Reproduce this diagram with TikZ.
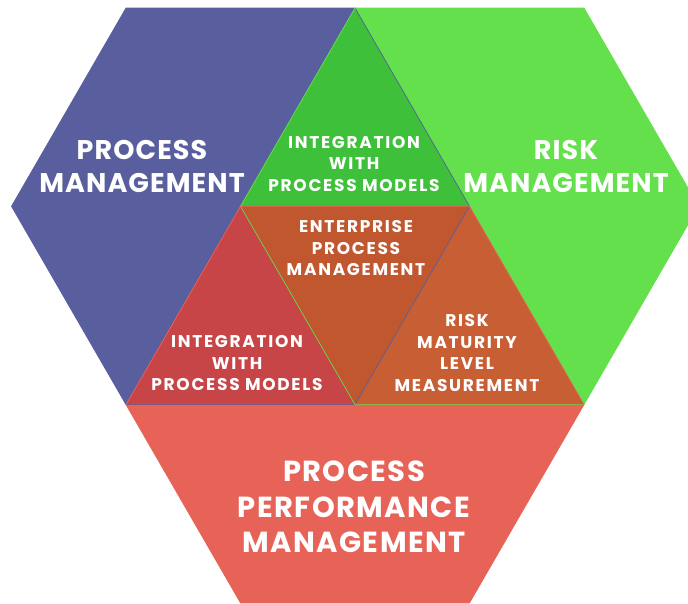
\documentclass[tikz,border=0pt]{standalone}
\usepackage{fontspec}
\setmainfont{Poppins}
\definecolor{pmblue}{HTML}{585E9E}
\definecolor{rmgreen}{HTML}{63E04B}
\definecolor{ppmred}{HTML}{E86357}
\definecolor{topgreen}{HTML}{3EC03A}
\definecolor{midorange}{HTML}{C0572E}
\definecolor{leftred}{HTML}{C74546}
\definecolor{rightorange}{HTML}{C85E33}
\begin{document}
\begin{tikzpicture}[x=1pt,y=-1pt,
    smalltext/.style={text=white,align=center,font=\bfseries\fontsize{17}{21.5}\selectfont\addfontfeatures{LetterSpace=10}},
    bigtext/.style={text=white,align=center,font=\bfseries\fontsize{27}{33}\selectfont\addfontfeatures{LetterSpace=4}},
    rim/.style={line width=0.7pt}]
  \useasboundingbox (0,0) rectangle (688,603);
  \clip (0,0) rectangle (688,603);
  % lattice points
  \coordinate (t1) at (126,8);    \coordinate (t2) at (355,8);    \coordinate (t3) at (584,8);
  \coordinate (m0) at (11.5,206.3); \coordinate (m1) at (240.5,206.3);
  \coordinate (m2) at (469.5,206.3); \coordinate (m3) at (698.5,206.3);
  \coordinate (b1) at (126,404.6); \coordinate (b2) at (355,404.6); \coordinate (b3) at (584,404.6);
  \coordinate (d1) at (240.5,602.9); \coordinate (d2) at (469.5,602.9);
  % hexagons
  \fill[pmblue] (t1) -- (t2) -- (m2) -- (b2) -- (b1) -- (m0) -- cycle;
  \fill[rmgreen] (t2) -- (t3) -- (m3) -- (b3) -- (b2) -- (m1) -- cycle;
  \fill[ppmred] (m1) -- (m2) -- (b3) -- (d2) -- (d1) -- (b1) -- cycle;
  % overlaps
  \fill[topgreen] (t2) -- (m1) -- (m2) -- cycle;
  \fill[midorange] (m1) -- (m2) -- (b2) -- cycle;
  \fill[leftred] (m1) -- (b1) -- (b2) -- cycle;
  \fill[rightorange] (m2) -- (b2) -- (b3) -- cycle;
  % outlines
  \draw[rim,pmblue] (t1) -- (t2) -- (m2) -- (b2) -- (b1) -- (m0) -- cycle;
  \draw[rim,rmgreen] (t2) -- (t3) -- (m3) -- (b3) -- (b2) -- (m1) -- cycle;
  \draw[rim,ppmred] (m1) -- (m2) -- (b3) -- (d2) -- (d1) -- (b1) -- cycle;
  % texts
  \node[bigtext] (pm) at (142,166) {PROCESS\\MANAGEMENT};
  \node[bigtext,font=\bfseries\fontsize{29}{35.5}\selectfont\addfontfeatures{LetterSpace=5}] (ppm) at (354,507) {PROCESS\\PERFORMANCE\\MANAGEMENT};
  \node[bigtext] (rm) at (566,166) {RISK\\MANAGEMENT};
  \node[smalltext] (ipm) at (354,164) {INTEGRATION\\WITH\\PROCESS MODELS};
  \node[smalltext] (epm) at (356,248) {ENTERPRISE\\PROCESS\\MANAGEMENT};
  \node[smalltext] (ipm2) at (237,363) {INTEGRATION\\WITH\\PROCESS MODELS};
  \node[smalltext] (rml) at (467,353) {RISK\\MATURITY\\LEVEL\\MEASUREMENT};
\end{tikzpicture}
\end{document}
